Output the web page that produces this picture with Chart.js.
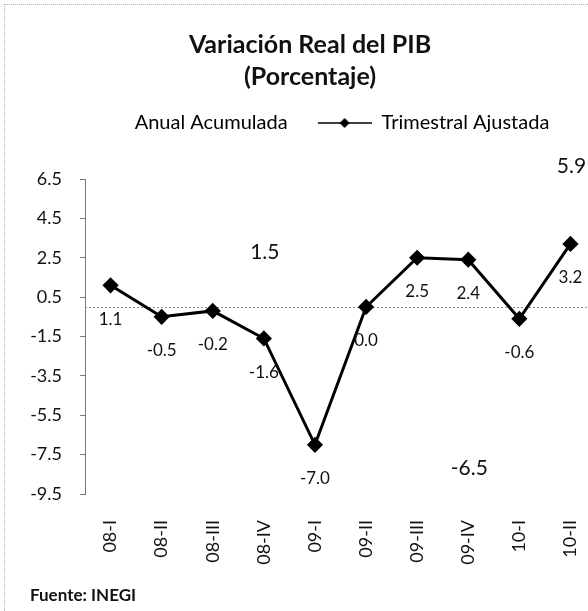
<!DOCTYPE html>
<html lang="es">
<head>
<meta charset="utf-8">
<title>Variación Real del PIB</title>
<script src="https://cdn.jsdelivr.net/npm/chart.js@4.4.1/dist/chart.umd.min.js"></script>
<style>
  html, body { margin: 0; padding: 0; background: #fff; overflow: hidden; }
  #wrap { position: relative; width: 612px; height: 611px; }
  #frame { position: absolute; left: 4px; top: 4px; right: 0; bottom: 0;
           border-top: 1px dotted #b5b5b5; border-left: 1px dotted #b5b5b5; }
  #pibChart { position: absolute; left: 0; top: 0; }
  #fuente { position: absolute; left: 30px; top: 584px; font: bold 17px Lato, sans-serif; color: #111; }
</style>
</head>
<body>
<div id="wrap">
  <div id="frame"></div>
  <canvas id="pibChart" width="612" height="611"></canvas>
  <div id="fuente">Fuente: INEGI</div>
</div>
<script>
const trimestres = ["08-I", "08-II", "08-III", "08-IV", "09-I", "09-II", "09-III", "09-IV", "10-I", "10-II"];
const trimestralAjustada = [1.1, -0.5, -0.2, -1.6, -7.0, 0.0, 2.5, 2.4, -0.6, 3.2];
// anual acumulada only shown at the closing quarter of each period
const anualAcumulada = [null, null, null, 1.5, null, null, null, -6.5, null, 5.9];
const yTicks = [-9.5, -7.5, -5.5, -3.5, -1.5, 0.5, 2.5, 4.5, 6.5];

Chart.defaults.font.family = "Lato, 'Open Sans', sans-serif";
Chart.defaults.color = "#111";

// legend keys: nothing for the annual series, line + diamond for the quarterly one
const blankKey = document.createElement("canvas");
blankKey.width = 1;
blankKey.height = 1;
const lineKey = document.createElement("canvas");
lineKey.width = 54;
lineKey.height = 12;
(function () {
  const c = lineKey.getContext("2d");
  c.strokeStyle = "#000";
  c.lineWidth = 1.5;
  c.beginPath();
  c.moveTo(0, 6);
  c.lineTo(54, 6);
  c.stroke();
  c.fillStyle = "#000";
  c.beginPath();
  c.moveTo(27, 1);
  c.lineTo(32, 6);
  c.lineTo(27, 11);
  c.lineTo(22, 6);
  c.closePath();
  c.fill();
})();

const zeroLine = {
  id: "zeroLine",
  beforeDatasetsDraw(chart) {
    const { ctx, chartArea, scales } = chart;
    const y = Math.round(scales.y.getPixelForValue(0)) + 0.5;
    ctx.save();
    ctx.strokeStyle = "#8c8c8c";
    ctx.lineWidth = 1;
    ctx.setLineDash([2, 2]);
    ctx.beginPath();
    ctx.moveTo(chartArea.left, y);
    ctx.lineTo(chartArea.right, y);
    ctx.stroke();
    ctx.restore();
  }
};

const valueLabels = {
  id: "valueLabels",
  afterDatasetsDraw(chart) {
    const { ctx } = chart;
    ctx.save();
    ctx.textAlign = "center";
    ctx.textBaseline = "middle";
    ctx.fillStyle = "#111";
    ctx.font = "21px Lato";
    chart.getDatasetMeta(0).data.forEach((bar, i) => {
      const v = anualAcumulada[i];
      if (v === null) return;
      ctx.fillText(v.toFixed(1), bar.x + 1, v >= 0 ? bar.y - 25 : bar.y + 33);
    });
    ctx.font = "17px Lato";
    chart.getDatasetMeta(1).data.forEach((pt, i) => {
      ctx.fillText(trimestralAjustada[i].toFixed(1), pt.x, pt.y + 34);
    });
    ctx.restore();
  }
};

new Chart(document.getElementById("pibChart"), {
  data: {
    labels: trimestres,
    datasets: [
      {
        type: "bar",
        label: "Anual Acumulada",
        data: anualAcumulada,
        backgroundColor: "rgba(255, 255, 255, 0)",
        borderWidth: 0
      },
      {
        type: "line",
        label: "Trimestral Ajustada",
        data: trimestralAjustada,
        borderColor: "#000",
        borderWidth: 3,
        pointStyle: "rectRot",
        pointRadius: 6,
        pointBackgroundColor: "#000",
        pointBorderColor: "#000",
        tension: 0
      }
    ]
  },
  options: {
    responsive: false,
    animation: false,
    layout: { padding: { left: 24, right: 16, top: 0, bottom: 0 } },
    plugins: {
      title: {
        display: true,
        text: ["Variación Real del PIB", "(Porcentaje)"],
        font: { size: 25, weight: "bold", lineHeight: 1.28 },
        color: "#111",
        padding: { top: 29, bottom: -10 }
      },
      subtitle: {
        display: true,
        text: "",
        weight: 500,
        font: { size: 36, lineHeight: 1 },
        padding: 0
      },
      legend: {
        labels: {
          usePointStyle: true,
          pointStyleWidth: 54,
          padding: 30,
          font: { size: 20 },
          color: "#111",
          generateLabels: () => [
            { text: "Anual Acumulada", pointStyle: blankKey, datasetIndex: 0, hidden: false, lineWidth: 0 },
            { text: "Trimestral Ajustada", pointStyle: lineKey, datasetIndex: 1, hidden: false, lineWidth: 0 }
          ]
        }
      },
      tooltip: { enabled: false }
    },
    scales: {
      x: {
        grid: { display: false },
        border: { display: false },
        ticks: { minRotation: 90, maxRotation: 90, autoSkip: false, padding: 18, font: { size: 18 }, color: "#111" },
        afterFit(scale) { scale.height = 117; }
      },
      y: {
        min: -9.5,
        max: 6.5,
        afterBuildTicks(scale) { scale.ticks = yTicks.map(v => ({ value: v })); },
        grid: { drawOnChartArea: false, drawTicks: true, tickLength: 5, color: "#7a7a7a" },
        border: { display: true, color: "#7a7a7a" },
        ticks: { padding: 18, font: { size: 18 }, color: "#111", callback: v => v.toFixed(1) },
        afterFit(scale) { scale.width = 61; }
      }
    }
  },
  plugins: [zeroLine, valueLabels]
});
</script>
</body>
</html>
